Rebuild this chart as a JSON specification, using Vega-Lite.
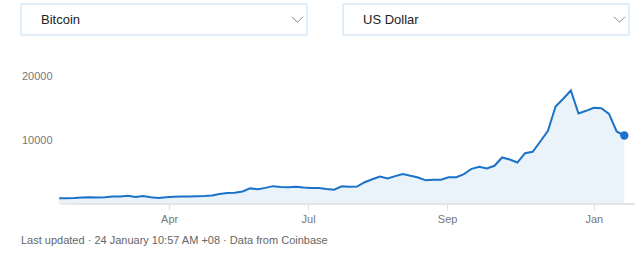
{
  "$schema": "https://vega.github.io/schema/vega-lite/v6.json",
  "padding": {"left": 20, "top": 3, "right": 0, "bottom": 0},
  "background": "white",
  "config": {"font": "Liberation Sans", "view": {"stroke": null}},
  "spacing": 34,
  "datasets": {
    "selectors": [{"name": "Bitcoin"}, {"name": "US Dollar"}],
    "prices": [
      {"date": "2017-01-19", "price": 900},
      {"date": "2017-01-24", "price": 890},
      {"date": "2017-01-29", "price": 920},
      {"date": "2017-02-03", "price": 1010},
      {"date": "2017-02-08", "price": 1060},
      {"date": "2017-02-13", "price": 1000},
      {"date": "2017-02-18", "price": 1050},
      {"date": "2017-02-23", "price": 1170},
      {"date": "2017-02-28", "price": 1190},
      {"date": "2017-03-05", "price": 1270},
      {"date": "2017-03-10", "price": 1110},
      {"date": "2017-03-15", "price": 1250},
      {"date": "2017-03-20", "price": 1040},
      {"date": "2017-03-25", "price": 930},
      {"date": "2017-03-30", "price": 1040},
      {"date": "2017-04-04", "price": 1140},
      {"date": "2017-04-09", "price": 1190},
      {"date": "2017-04-14", "price": 1180},
      {"date": "2017-04-19", "price": 1210},
      {"date": "2017-04-24", "price": 1250},
      {"date": "2017-04-29", "price": 1340},
      {"date": "2017-05-04", "price": 1550},
      {"date": "2017-05-09", "price": 1720},
      {"date": "2017-05-14", "price": 1770},
      {"date": "2017-05-19", "price": 1960},
      {"date": "2017-05-24", "price": 2440},
      {"date": "2017-05-29", "price": 2300},
      {"date": "2017-06-03", "price": 2520},
      {"date": "2017-06-08", "price": 2790},
      {"date": "2017-06-13", "price": 2660},
      {"date": "2017-06-18", "price": 2600},
      {"date": "2017-06-23", "price": 2710},
      {"date": "2017-06-28", "price": 2580},
      {"date": "2017-07-03", "price": 2510},
      {"date": "2017-07-08", "price": 2510},
      {"date": "2017-07-13", "price": 2350},
      {"date": "2017-07-18", "price": 2230},
      {"date": "2017-07-23", "price": 2760},
      {"date": "2017-07-28", "price": 2700},
      {"date": "2017-08-02", "price": 2720},
      {"date": "2017-08-07", "price": 3400},
      {"date": "2017-08-12", "price": 3870},
      {"date": "2017-08-17", "price": 4300},
      {"date": "2017-08-22", "price": 4000},
      {"date": "2017-08-27", "price": 4350},
      {"date": "2017-09-01", "price": 4700},
      {"date": "2017-09-06", "price": 4400},
      {"date": "2017-09-11", "price": 4150},
      {"date": "2017-09-16", "price": 3700},
      {"date": "2017-09-21", "price": 3780},
      {"date": "2017-09-26", "price": 3780},
      {"date": "2017-10-01", "price": 4190},
      {"date": "2017-10-06", "price": 4190},
      {"date": "2017-10-11", "price": 4660},
      {"date": "2017-10-16", "price": 5500},
      {"date": "2017-10-21", "price": 5810},
      {"date": "2017-10-26", "price": 5550},
      {"date": "2017-10-31", "price": 5970},
      {"date": "2017-11-05", "price": 7270},
      {"date": "2017-11-10", "price": 6950},
      {"date": "2017-11-15", "price": 6480},
      {"date": "2017-11-20", "price": 7940},
      {"date": "2017-11-25", "price": 8160},
      {"date": "2017-11-30", "price": 9770},
      {"date": "2017-12-05", "price": 11440},
      {"date": "2017-12-10", "price": 15230},
      {"date": "2017-12-15", "price": 16440},
      {"date": "2017-12-20", "price": 17730},
      {"date": "2017-12-25", "price": 14140},
      {"date": "2017-12-30", "price": 14560},
      {"date": "2018-01-04", "price": 15030},
      {"date": "2018-01-09", "price": 14970},
      {"date": "2018-01-14", "price": 14090},
      {"date": "2018-01-19", "price": 11330},
      {"date": "2018-01-24", "price": 10700}
    ]
  },
  "vconcat": [
    {
      "width": 608,
      "height": 31,
      "data": {"name": "selectors"},
      "layer": [
        {
          "mark": {"type": "rect", "fill": "white", "stroke": "#c3dcf1", "strokeWidth": 1},
          "encoding": {
            "x": {"field": "name", "type": "nominal", "axis": null, "scale": {"type": "band", "paddingInner": 0.112, "paddingOuter": 0}}
          }
        },
        {
          "mark": {"type": "text", "align": "left", "baseline": "middle", "dx": 20, "fontSize": 13, "color": "#222"},
          "encoding": {
            "x": {"field": "name", "type": "nominal", "bandPosition": 0, "axis": null},
            "text": {"field": "name"}
          }
        },
        {
          "mark": {"type": "point", "shape": "M-1,-0.5L0,0.5L1,-0.5", "filled": false, "stroke": "#888", "strokeWidth": 1, "size": 121, "xOffset": -9.5, "opacity": 1},
          "encoding": {
            "x": {"field": "name", "type": "nominal", "bandPosition": 1, "axis": null}
          }
        }
      ]
    },
    {
      "width": 614,
      "height": 128,
      "data": {"name": "prices"},
      "title": {"text": "Last updated · 24 January 10:57 AM +08 · Data from Coinbase", "orient": "bottom", "anchor": "start", "frame": "bounds", "fontSize": 11, "fontWeight": "normal", "color": "#666", "offset": 11},
      "encoding": {
        "x": {
          "field": "date", "type": "temporal",
          "scale": {"domain": [{"year": 2016, "month": 12, "date": 25, "utc": true}, {"year": 2018, "month": 1, "date": 31, "utc": true}]},
          "axis": {
            "values": [{"year": 2017, "month": 4, "date": 1, "utc": true}, {"year": 2017, "month": 7, "date": 1, "utc": true}, {"year": 2017, "month": 9, "date": 30, "utc": true}, {"year": 2018, "month": 1, "date": 4, "utc": true}],
            "format": "%b", "title": null, "grid": false, "domain": false, "tickColor": "#e0e0e0", "tickSize": 6,
            "labelColor": "#777", "labelFontSize": 11, "labelPadding": 3, "labelFlush": false
          }
        },
        "y": {
          "field": "price", "type": "quantitative",
          "scale": {"domain": [0, 20000], "nice": false},
          "axis": {"values": [10000, 20000], "format": "d", "title": null, "grid": false, "domain": false, "ticks": false, "tickSize": 0, "offset": -38, "labelPadding": 7, "labelColor": "#777", "labelFontSize": 11}
        }
      },
      "layer": [
        {"mark": {"type": "area", "color": "#eaf2fa", "opacity": 1}},
        {
          "mark": {"type": "rule", "color": "#e3e3e3", "strokeWidth": 1},
          "encoding": {
            "x": {"aggregate": "min", "field": "date", "type": "temporal"},
            "x2": {"datum": {"year": 2018, "month": 1, "date": 31, "utc": true}},
            "y": {"datum": 0}
          }
        },
        {"mark": {"type": "line", "color": "#1a73c8", "strokeWidth": 2}},
        {
          "transform": [{"filter": {"field": "date", "equal": {"year": 2018, "month": 1, "date": 24, "utc": true}}}],
          "mark": {"type": "circle", "color": "#1a73c8", "opacity": 1, "size": 70}
        }
      ]
    }
  ]
}
